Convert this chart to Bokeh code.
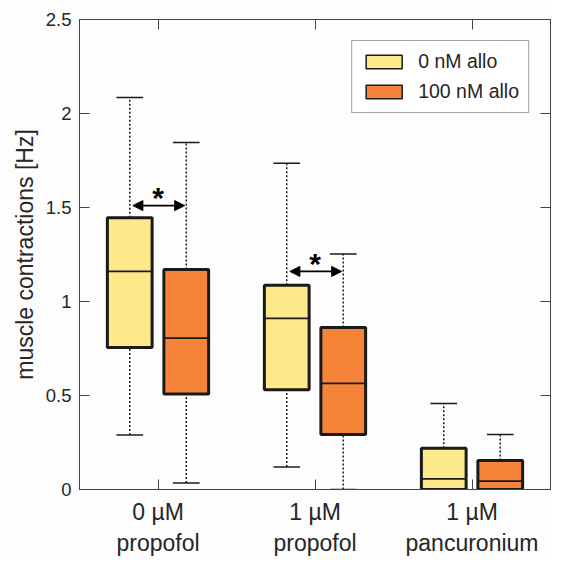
from bokeh.plotting import figure
from bokeh.models import (ColumnDataSource, FixedTicker, LinearAxis, Range1d, Legend, LegendItem,
                          Arrow, NormalHead, CustomJSTickFormatter)
from bokeh.core.properties import value
from bokeh.embed import file_html
from bokeh.resources import INLINE

# ---- data ----
groups = [1, 2, 3]
group_labels = ["0 µM\npropofol", "1 µM\npropofol", "1 µM\npancuronium"]
series_names = ["0 nM allo", "100 nM allo"]

allo0_wlo = [0.29, 0.12, 0.0]
allo0_q1 = [0.755, 0.53, 0.0]
allo0_med = [1.16, 0.91, 0.056]
allo0_q3 = [1.445, 1.087, 0.22]
allo0_whi = [2.085, 1.735, 0.457]

allo100_wlo = [0.035, 0.0, 0.0]
allo100_q1 = [0.508, 0.292, 0.0]
allo100_med = [0.805, 0.565, 0.045]
allo100_q3 = [1.17, 0.862, 0.154]
allo100_whi = [1.846, 1.252, 0.292]

sig_groups = [1, 2]
sig_y = [1.51, 1.16]
sig_text = ["*", "*"]

y_ticks = [0, 0.5, 1, 1.5, 2, 2.5]

# ---- style ----
FONT = "Liberation Sans"
colors = ["#FEE98A", "#F68438"]
offsets = [-0.18, 0.18]
box_w = 0.285
cap_w = 0.17
edge = "#1a1a1a"
axis_col = "#444444"
txt_col = "#262626"
bg = "#fdfdfd"

p = figure(width=551, height=558, output_backend="svg", toolbar_location=None,
           x_range=Range1d(0.5, 3.5), y_range=Range1d(0, 2.5),
           min_border_left=79, min_border_right=1, min_border_top=19, min_border_bottom=65,
           background_fill_color=bg, border_fill_color=bg)
p.grid.visible = False
p.outline_line_color = axis_col
p.outline_line_width = 1

series = [
    (allo0_wlo, allo0_q1, allo0_med, allo0_q3, allo0_whi),
    (allo100_wlo, allo100_q1, allo100_med, allo100_q3, allo100_whi),
]

legend_renderers = []
for k, (wlo, q1, med, q3, whi) in enumerate(series):
    xs = [g + offsets[k] for g in groups]
    src = ColumnDataSource(dict(
        x=xs, x0=[x - box_w / 2 for x in xs], x1=[x + box_w / 2 for x in xs],
        c0=[x - cap_w / 2 for x in xs], c1=[x + cap_w / 2 for x in xs],
        wlo=wlo, q1=q1, med=med, q3=q3, whi=whi))
    # whiskers (dotted)
    p.segment(x0="x", y0="q3", x1="x", y1="whi", source=src, line_color=edge,
              line_width=1.5, line_dash="2 2")
    p.segment(x0="x", y0="wlo", x1="x", y1="q1", source=src, line_color=edge,
              line_width=1.5, line_dash="2 2")
    # caps
    p.segment(x0="c0", y0="whi", x1="c1", y1="whi", source=src, line_color=edge, line_width=1.5)
    p.segment(x0="c0", y0="wlo", x1="c1", y1="wlo", source=src, line_color=edge, line_width=1.5)
    # boxes
    p.vbar(x="x", width=box_w, bottom="q1", top="q3", source=src,
           fill_color=colors[k], line_color=edge, line_width=3)
    # median
    p.segment(x0="x0", y0="med", x1="x1", y1="med", source=src, line_color=edge, line_width=1.8)
    # legend-only renderer (thinner outline, as in the reference legend)
    r = p.vbar(x="x", width=box_w, bottom="q1", top="q3", source=src,
               fill_color=colors[k], line_color=edge, line_width=1.5, visible=False)
    legend_renderers.append(r)

# significance arrows
arr_src = ColumnDataSource(dict(
    xs=[g + offsets[0] + 0.02 for g in sig_groups],
    xe=[g + offsets[1] - 0.01 for g in sig_groups],
    y=sig_y))
p.add_layout(Arrow(start=NormalHead(size=10, fill_color="black", line_color="black"),
                   end=NormalHead(size=10, fill_color="black", line_color="black"),
                   x_start="xs", y_start="y", x_end="xe", y_end="y", source=arr_src,
                   line_color="black", line_width=1.6))
star_src = ColumnDataSource(dict(x=sig_groups, y=sig_y, t=sig_text))
p.text(x="x", y="y", text="t", source=star_src, text_font=value(FONT),
       text_font_size="30px", text_font_style="bold", text_align="center",
       text_baseline="alphabetic", y_offset=-8, text_color="black")

# axes
def style_axis(ax, labels=True):
    ax.axis_line_color = axis_col
    ax.axis_line_width = 1
    ax.major_tick_line_color = axis_col
    ax.major_tick_in = 10
    ax.major_tick_out = 0
    ax.minor_tick_line_color = None
    ax.major_label_text_font = FONT
    ax.major_label_text_color = txt_col
    ax.axis_label_text_font = FONT
    ax.axis_label_text_font_style = "normal"
    ax.axis_label_text_color = txt_col
    if not labels:
        ax.major_label_text_color = None
        ax.major_label_text_font_size = "1px"
        ax.major_label_standoff = 0

yl = p.yaxis[0]
yl.ticker = FixedTicker(ticks=y_ticks)
yl.formatter = CustomJSTickFormatter(code="return tick.toString()")
style_axis(yl)
yl.major_label_text_font_size = "18.5px"
yl.major_label_standoff = 8
yl.axis_label = "muscle contractions [Hz]"
yl.axis_label_text_font_size = "23px"
yl.axis_label_standoff = 5

xb = p.xaxis[0]
xb.ticker = FixedTicker(ticks=groups)
xb.major_label_overrides = {g: lab for g, lab in zip(groups, group_labels)}
style_axis(xb)
xb.major_label_text_font_size = "23px"
xb.major_label_standoff = 9

yr = LinearAxis(ticker=FixedTicker(ticks=y_ticks))
style_axis(yr, labels=False)
p.add_layout(yr, "right")
xt = LinearAxis(ticker=FixedTicker(ticks=groups))
style_axis(xt, labels=False)
p.add_layout(xt, "above")

legend = Legend(items=[LegendItem(label=series_names[i], renderers=[legend_renderers[i]])
                       for i in range(2)],
                location="top_right", margin=21, padding=9, spacing=7,
                glyph_width=45, glyph_height=17, label_height=17, label_standoff=12,
                label_text_font=FONT, label_text_font_size="19.5px", label_text_color=txt_col,
                border_line_color=axis_col, border_line_width=1,
                background_fill_color="white", background_fill_alpha=1)
p.add_layout(legend, "center")

open("out.html", "w").write(file_html(p, INLINE))
